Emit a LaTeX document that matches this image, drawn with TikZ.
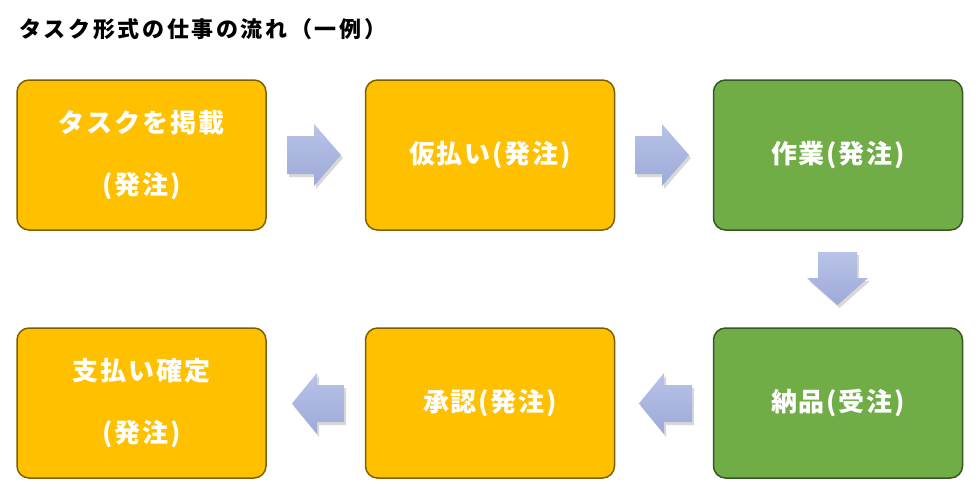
\documentclass[tikz,border=0pt]{standalone}
\usepackage{fontspec}
\setmainfont{Noto Sans CJK JP}
\usetikzlibrary{shadows}
\definecolor{orfill}{HTML}{FFC000}
\definecolor{ordraw}{HTML}{7F6000}
\definecolor{grfill}{HTML}{70AD47}
\definecolor{grdraw}{HTML}{385723}
\definecolor{arrtop}{HTML}{B8C3E6}
\definecolor{arrbot}{HTML}{9DAAD9}
\begin{document}
\begin{tikzpicture}[x=1pt,y=-1pt,
 box/.style={rounded corners=12pt, line width=1.5pt, minimum width=249pt, minimum height=150pt, inner sep=0pt, align=center, text=white, font=\fontsize{26}{31}\selectfont\bfseries\addfontfeatures{LetterSpace=7}},
 obox/.style={box, fill=orfill, draw=ordraw},
 gbox/.style={box, fill=grfill, draw=grdraw},
 blockarrow/.style={top color=arrtop, bottom color=arrbot, draw=none, drop shadow={shadow xshift=2pt, shadow yshift=-3pt, opacity=0.3}}]
\fill[white] (0,0) rectangle (980,483);
\useasboundingbox (0,0) rectangle (980,483);
\node[anchor=west, inner sep=0pt, font=\fontsize{22}{26}\selectfont\bfseries\addfontfeatures{LetterSpace=12}] (title) at (19,29) {タスク形式の仕事の流れ（一例）};
\node[obox] (b1) at (141.5,155) {タスクを掲載\\[31pt](発注)};
\node[obox] (b2) at (490,155) {仮払い(発注)};
\node[gbox] (b3) at (838,155) {作業(発注)};
\node[obox] (b4) at (141.5,403) {支払い確定\\[31pt](発注)};
\node[obox] (b5) at (490,403) {承認(発注)};
\node[gbox] (b6) at (838,403) {納品(受注)};
% right arrows
\path[blockarrow] (287,136) -- (314,136) -- (314,124) -- (341,155) -- (314,186) -- (314,174) -- (287,174) -- cycle;
\path[blockarrow] (635,136) -- (662,136) -- (662,124) -- (689,155) -- (662,186) -- (662,174) -- (635,174) -- cycle;
% down arrow
\path[blockarrow] (818,252) -- (857,252) -- (857,278) -- (868,278) -- (837.5,305) -- (807,278) -- (818,278) -- cycle;
% left arrows
\path[blockarrow] (344,385) -- (317,385) -- (317,373) -- (292,403.5) -- (317,434) -- (317,422) -- (344,422) -- cycle;
\path[blockarrow] (692,385) -- (664,385) -- (664,373) -- (639,403.5) -- (664,434) -- (664,422) -- (692,422) -- cycle;
\end{tikzpicture}
\end{document}
